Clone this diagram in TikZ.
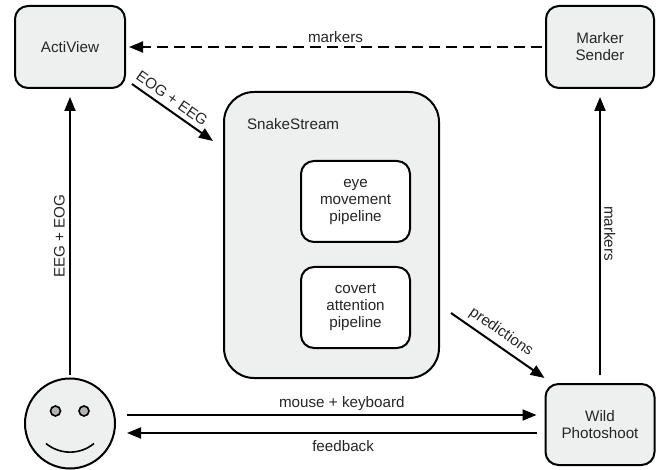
\documentclass[tikz,border=0pt]{standalone}
\usepackage{fontspec}
\setmainfont{Liberation Sans}
\usetikzlibrary{arrows.meta}
\definecolor{boxgray}{HTML}{EEF0F0}
\tikzset{
  every node/.style={font=\fontsize{15.2}{17}\selectfont, text=black!85, align=center},
  panel/.style={draw, line width=2pt, rounded corners=13pt, fill=boxgray, inner sep=0pt},
  innerpanel/.style={panel, fill=white},
  pupil/.style={draw, circle, line width=1.6pt, fill=black!30, minimum size=10pt, inner sep=0pt},
  flow/.style={line width=2pt, -{Triangle[length=14pt,width=11pt]}, shorten >=3pt, shorten <=3pt},
}
\begin{document}
\begin{tikzpicture}[x=1pt, y=-1pt]
  \useasboundingbox (0, 0) rectangle (661, 470);
  \node[panel, minimum width=110pt, minimum height=82pt] (actiview) at (70, 47) {ActiView};
  \node[panel, minimum width=108pt, minimum height=82pt] (sender) at (600, 47) {Marker\\Sender};
  \node[panel, minimum width=109pt, minimum height=81pt] (wild) at (600, 424.5) {Wild\\Photoshoot};
  \node[panel, rounded corners=30pt, minimum width=215pt, minimum height=286pt] (snake) at (331.5, 235) {};
  \node[anchor=west] (snakelabel) at (243.5, 124) {SnakeStream};
  \node[innerpanel, minimum width=109pt, minimum height=81pt] (eye) at (355.5, 201.5) {eye\\movement\\pipeline};
  \node[innerpanel, minimum width=109pt, minimum height=81pt] (covert) at (355.5, 307.5) {covert\\attention\\pipeline};
  % face
  \node[panel, circle, minimum size=90pt] (face) at (70, 423.5) {};
  \node[pupil] (lefteye) at (55.5, 411) {};
  \node[pupil] (righteye) at (84, 411) {};
  \draw[line width=1.6pt] (46, 443.5) .. controls (60, 455) and (80, 455) .. (94, 443.5);
  % connectors
  \draw[flow, dashed, dash pattern=on 11pt off 6pt] (sender) -- node[above] {markers} (actiview);
  \draw[flow, shorten >=8pt] (face) -- node[sloped, above=1pt, pos=0.49] {EEG + EOG} (actiview);
  \draw[flow, shorten >=8pt, shorten <=8pt] (wild) -- node[rotate=-90, anchor=south, xshift=-2.5pt, pos=0.5] {markers} (sender);
  \draw[flow, shorten >=0pt, shorten <=0pt] ([xshift=6pt, yshift=5pt]actiview.south east) -- node[sloped, above=1.5pt, pos=0.416] {EOG + EEG} ([xshift=-10pt, yshift=-50pt]snake.north west);
  \draw[flow, shorten >=0pt, shorten <=0pt] ([xshift=11pt, yshift=66pt]snake.south east) -- node[sloped, above=1.5pt, pos=0.457] {predictions} ([yshift=5pt]wild.north west);
  \draw[flow, shorten >=8pt, shorten <=11pt] ([yshift=8.5pt]face.east) -- node[above=0.5pt, pos=0.527] {mouse + keyboard} ([yshift=9.5pt]wild.west);
  \draw[flow, shorten >=11pt, shorten <=8pt] ([yshift=-8.5pt]wild.west) -- node[below=3pt, pos=0.47] {feedback} ([yshift=-9.5pt]face.east);
\end{tikzpicture}
\end{document}
